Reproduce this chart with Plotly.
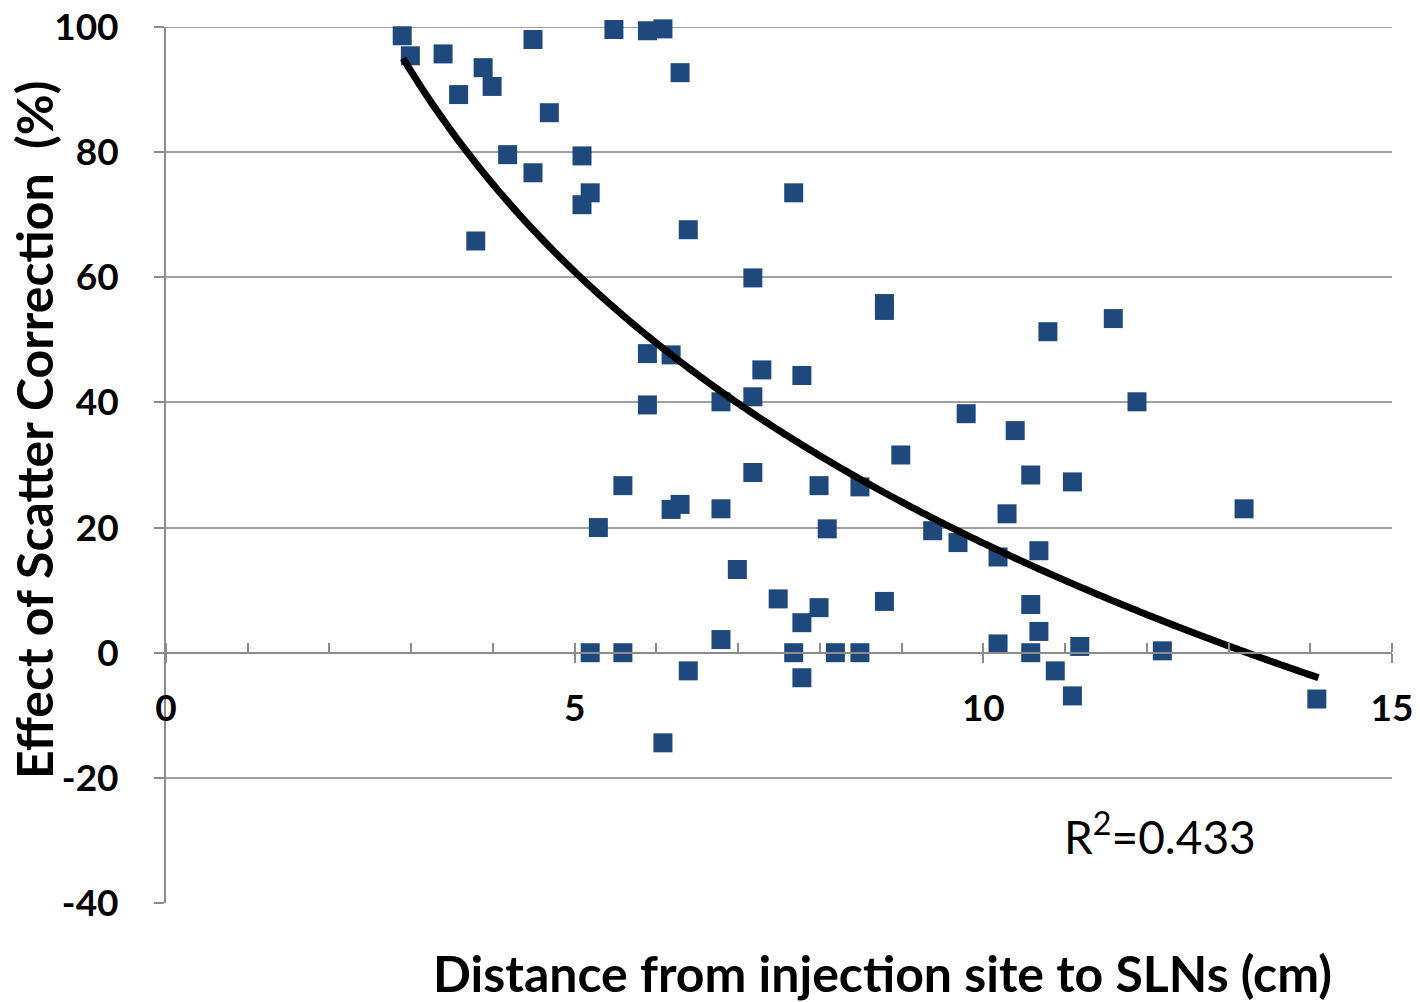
import numpy as np
import plotly.graph_objects as go

# Scatter data
distance_cm = [2.89, 2.99, 3.39, 3.58, 3.88, 3.99, 3.79, 4.18, 4.49, 4.49,
               4.69, 5.09, 5.09, 5.19, 5.48, 5.89, 6.08, 6.29, 6.39, 5.89,
               6.18, 5.89, 5.19, 5.29, 5.59, 5.59, 6.18, 6.29, 6.08, 6.39,
               6.79, 6.79, 6.79, 6.99, 7.18, 7.18, 7.18, 7.29, 7.49, 7.68,
               7.68, 7.78, 7.78, 7.78, 7.99, 7.99, 8.09, 8.19, 8.49, 8.49,
               8.79, 8.79, 8.79, 8.99, 9.38, 9.69, 9.79, 10.18, 10.18, 10.29,
               10.39, 10.58, 10.58, 10.58, 10.68, 10.68, 10.79, 10.88, 11.09, 11.09,
               11.18, 11.59, 11.88, 12.19, 13.19, 14.08]
effect_pct = [98.6, 95.4, 95.7, 89.2, 93.5, 90.5, 65.8, 79.6, 98.0, 76.7,
              86.3, 79.4, 71.6, 73.5, 99.6, 99.4, 99.7, 92.7, 67.6, 47.8,
              47.6, 39.6, 0.0, 20.0, 0.0, 26.7, 22.9, 23.7, -14.4, -2.9,
              2.1, 23.0, 40.1, 13.3, 59.9, 40.9, 28.8, 45.2, 8.6, 73.5,
              0.0, 44.3, 4.8, -4.0, 7.2, 26.7, 19.8, 0.0, 26.5, 0.0,
              55.8, 54.7, 8.2, 31.6, 19.5, 17.6, 38.2, 15.3, 1.4, 22.2,
              35.5, 28.4, 7.7, 0.0, 16.3, 3.4, 51.3, -2.9, 27.3, -6.9,
              1.0, 53.4, 40.1, 0.3, 23.0, -7.4]

# Logarithmic trend line (y = a - b*ln(x)), coefficients
trend_a = 161.65
trend_b = 62.6
trend_x_range = [2.9, 14.1]
r_squared_text = "R<sup>2</sup>=0.433"

x_tick_vals = [0, 5, 10, 15]
y_tick_vals = [-40, -20, 0, 20, 40, 60, 80, 100]

x_title = "Distance from injection site to SLNs (cm)"
y_title = "Effect of Scatter Correction  (%)"

trend_x = np.linspace(trend_x_range[0], trend_x_range[1], 200)
trend_y = trend_a - trend_b * np.log(trend_x)

W, H = 1420, 1002
PLOT_L, PLOT_R, PLOT_T, PLOT_B = 166, 1392, 27, 903   # plot area in page pixels
L, T, R, B = PLOT_L, PLOT_T, W - PLOT_R, H - PLOT_B
pw, ph = PLOT_R - PLOT_L, PLOT_B - PLOT_T

def px_x(p):
    return (p - PLOT_L) / pw

def px_y(p):
    return (PLOT_B - p) / ph

GRID_COLOR = "#A0A0A0"
AXIS_COLOR = "#8C8C8C"

fig = go.Figure()
fig.add_trace(go.Scatter(
    x=distance_cm, y=effect_pct, mode="markers",
    marker=dict(symbol="square", size=19, color="#1F497D", line=dict(width=0)),
    showlegend=False, cliponaxis=False,
))
fig.add_trace(go.Scatter(
    x=trend_x, y=trend_y, mode="lines",
    line=dict(color="black", width=7, shape="spline"),
    showlegend=False,
))

tick_font = dict(family="Lato", size=37, color="black", weight="bold")
title_font = dict(family="Lato", size=50, color="black", weight="bold")

# top gridline (at the upper range edge) drawn explicitly so it is not dropped
fig.add_shape(type="line", xref="paper", yref="y", x0=0, x1=1,
              y0=y_tick_vals[-1], y1=y_tick_vals[-1],
              line=dict(color=GRID_COLOR, width=2), layer="below")

fig.update_layout(
    width=W, height=H,
    margin=dict(l=L, r=R, t=T, b=B, autoexpand=False),
    paper_bgcolor="white", plot_bgcolor="white",
    xaxis=dict(
        range=[0, 15], tickvals=x_tick_vals, ticktext=[str(v) for v in x_tick_vals],
        showgrid=False, zeroline=False,
        showline=True, linecolor=AXIS_COLOR, linewidth=2,
        ticks="outside", ticklen=9, tickwidth=2, tickcolor=AXIS_COLOR,
        minor=dict(dtick=1, ticks="inside", ticklen=9, tickwidth=2, tickcolor=AXIS_COLOR, showgrid=False),
        anchor="free", position=40 / 140,
        tickfont=tick_font, ticklabelstandoff=14, ticklabeloverflow="allow",
    ),
    yaxis=dict(
        range=[-40, 100], tickvals=y_tick_vals, ticktext=[str(v) for v in y_tick_vals],
        showgrid=True, gridcolor=GRID_COLOR, gridwidth=2, zeroline=False,
        showline=True, linecolor=AXIS_COLOR, linewidth=2,
        ticks="outside", ticklen=10, tickwidth=2, tickcolor=AXIS_COLOR,
        tickfont=tick_font, ticklabelstandoff=28, ticklabeloverflow="allow",
    ),
    annotations=[
        dict(text=x_title, xref="paper", yref="paper", x=px_x(882), y=px_y(973),
             showarrow=False, xanchor="center", yanchor="middle", font=title_font),
        dict(text=y_title, xref="paper", yref="paper", x=px_x(34), y=px_y(430),
             showarrow=False, xanchor="center", yanchor="middle", textangle=-90,
             font=title_font),
        dict(text=r_squared_text, xref="paper", yref="paper", x=px_x(1160), y=px_y(833),
             showarrow=False, xanchor="center", yanchor="middle",
             font=dict(family="Lato", size=46, color="black")),
    ],
)

# remove the browser's default 8px body margin so the figure sits at (0, 0)
fig.write_html("out.html", config={"displayModeBar": False},
               post_script="document.body.style.margin='0';")
